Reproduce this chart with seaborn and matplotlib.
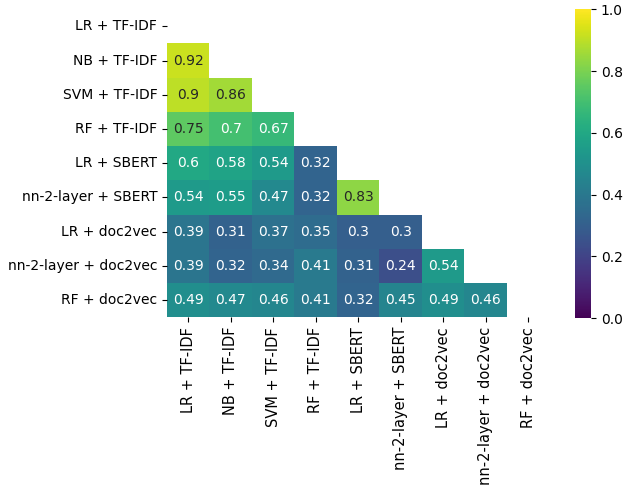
import numpy as np
import pandas as pd
import seaborn as sns
import matplotlib
matplotlib.use("Agg")
import matplotlib.pyplot as plt

labels = [
    "LR + TF-IDF",
    "NB + TF-IDF",
    "SVM + TF-IDF",
    "RF + TF-IDF",
    "LR + SBERT",
    "nn-2-layer + SBERT",
    "LR + doc2vec",
    "nn-2-layer + doc2vec",
    "RF + doc2vec",
]

# lower triangle, row by row
lower_rows = [
    [],
    [0.92],
    [0.9, 0.86],
    [0.75, 0.7, 0.67],
    [0.6, 0.58, 0.54, 0.32],
    [0.54, 0.55, 0.47, 0.32, 0.83],
    [0.39, 0.31, 0.37, 0.35, 0.3, 0.3],
    [0.39, 0.32, 0.34, 0.41, 0.31, 0.24, 0.54],
    [0.49, 0.47, 0.46, 0.41, 0.32, 0.45, 0.49, 0.46],
]

n = len(labels)
mat = np.eye(n)
for i, row in enumerate(lower_rows):
    for j, v in enumerate(row):
        mat[i, j] = v
        mat[j, i] = v
corr = pd.DataFrame(mat, index=labels, columns=labels)

mask = np.triu(np.ones_like(mat, dtype=bool))

fig = plt.figure(figsize=(6.24, 4.88), dpi=100)
ax = fig.add_axes([0.2676, 0.35, 0.613, 0.631])
cax = fig.add_axes([0.9215, 0.348, 0.0256, 0.633])
sns.heatmap(corr, mask=mask, cmap="viridis", vmin=0, vmax=1, annot=True,
            ax=ax, cbar_ax=cax)
ax.set_xticklabels(ax.get_xticklabels(), rotation=90, fontsize=10.5)
ax.set_yticklabels(ax.get_yticklabels(), rotation=0)
fig.savefig("out.png", dpi=100)
